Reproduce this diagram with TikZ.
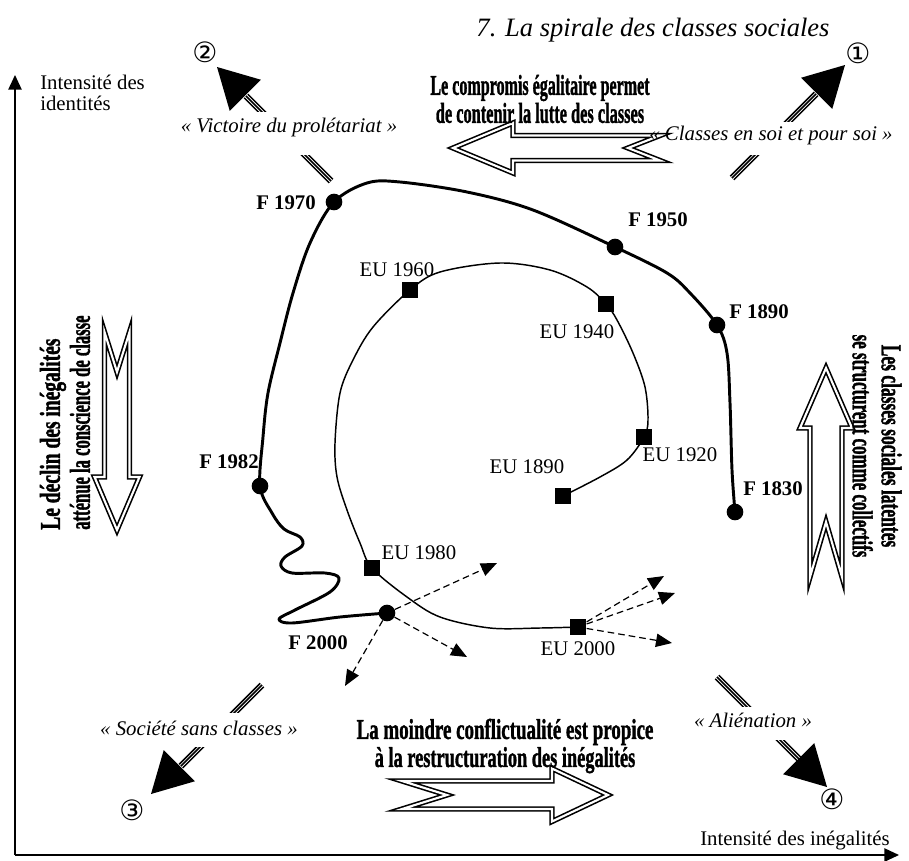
\documentclass[tikz,border=0pt]{standalone}
\usepackage{fontspec}
\usepackage{graphicx}
\setmainfont{Liberation Serif}
\newfontfamily\djv{DejaVu Sans}
\newfontfamily\heavy{Liberation Serif}[BoldFeatures={FakeBold=1.6}]
\usetikzlibrary{arrows.meta}
\newcommand\cx[2]{\scalebox{#1}[1]{#2}}
\tikzset{
  lab/.style={font=\fontsize{15.6}{16}\selectfont, inner sep=0pt},
  flab/.style={font=\fontsize{15.6}{16}\selectfont\bfseries, inner sep=0pt},
  quot/.style={font=\fontsize{15.6}{16}\selectfont\itshape, inner sep=0pt},
  bigt/.style={font=\heavy\fontsize{21.5}{21}\selectfont\bfseries, align=center, inner sep=0pt},
  circnum/.style={font=\djv\fontsize{21}{21}\selectfont, inner sep=0pt},
  fdot/.style={circle, fill=black, inner sep=0pt, minimum size=12.5pt},
  eusq/.style={rectangle, fill=black, inner sep=0pt, minimum size=12.5pt},
  fcurve/.style={line width=2.2pt, line join=round},
  eucurve/.style={line width=1.1pt},
  dasharr/.style={line width=0.9pt, dash pattern=on 5pt off 3pt, -{Triangle[length=12pt,width=10pt]}},
  axisline/.style={line width=1.1pt, -{Triangle[length=11pt,width=10pt]}},
  harrline/.style={draw=black, fill=white, line width=1.2pt, double=white, double distance=1.6pt, line join=miter},
  trishaft/.style={line width=1.2pt, double=white, double distance=2.4pt},
  trimid/.style={line width=1.2pt},
  pics/harr/.style n args={5}{code={\draw[harrline] (0,0) -- (-#1,#2) -- (-#1,#3) -- (-#4,#3) -- (-#4+#5,0) -- (-#4,-#3) -- (-#1,-#3) -- (-#1,-#2) -- cycle;}},
  pics/bighead/.style={code={\fill (0,0) -- (-40,22) -- (-40,-22) -- cycle;}}
}
\begin{document}
\begin{tikzpicture}[x=0.75pt,y=-0.75pt]
\useasboundingbox (0,0) rectangle (909,860);

% axes
\coordinate (o) at (15,855);
\coordinate (ytip) at (15,75);
\coordinate (xtip) at (899,855);
\draw[axisline] (o) -- (ytip);
\draw[axisline] (o) -- (xtip);
\node[lab, align=left, anchor=west, font=\fontsize{15.6}{15.75}\selectfont] (ylab) at (40,92.5) {Intensit\'e des\\identit\'es};
\node[lab, anchor=east] (xlab) at (890,840) {Intensit\'e des in\'egalit\'es};

% title
\node[quot, font=\fontsize{19.9}{20}\selectfont\itshape] (title) at (653,30) {7. La spirale des classes sociales};

% hollow arrows
\pic[rotate=180] at (453,148) {harr={60}{25}{12.5}{207}{32}};
\pic[rotate=0] at (608,795) {harr={56}{26.5}{14}{206}{45}};
\pic[rotate=-90] at (117,530) {harr={53}{22.5}{12.5}{198}{40}};
\pic[rotate=90] at (826,368) {harr={60}{26}{16}{209}{55}};

% diagonal arrows
\draw[trishaft] (246,96) -- (331,181); \draw[trimid] (246,96) -- (331,181);
\draw[trishaft] (816,94) -- (732,178); \draw[trimid] (816,94) -- (732,178);
\draw[trishaft] (181,766) -- (262,685); \draw[trimid] (181,766) -- (262,685);
\draw[trishaft] (717,677) -- (801,761); \draw[trimid] (717,677) -- (801,761);
\pic[rotate=135] at (217,67) {bighead};
\pic[rotate=45] at (845,65) {bighead};
\pic[rotate=-135] at (151,794) {bighead};
\pic[rotate=-45] at (827,787) {bighead};
\fill[white] (240,112) rectangle (320,155);
\fill[white] (740,122) rectangle (805,155);
\fill[white] (185,713) rectangle (250,747);
\fill[white] (735,707) rectangle (790,740);
\node[quot] (q2) at (289,127) {« Victoire du prol\'etariat »};
\node[quot] (q1) at (771,135) {« Classes en soi et pour soi »};
\node[quot, anchor=east] (q3) at (298,728) {« Soci\'et\'e sans classes »};
\node[quot] (q4) at (753,720) {« Ali\'enation »};
\node[circnum] (n2) at (205,52) {②};
\node[circnum] (n1) at (858,53) {①};
\node[circnum] (n3) at (132,810) {③};
\node[circnum] (n4) at (832,799) {④};

% big texts
\node[bigt] (ttop) at (540,99) {\cx{0.56}{Le compromis \'egalitaire permet}\\\cx{0.57}{de contenir la lutte des classes}};
\node[bigt] (tbot) at (505,746) {\cx{0.66}{La moindre conflictualit\'e est propice}\\\cx{0.64}{\`a la restructuration des in\'egalit\'es}};
\node[bigt, align=left, rotate=90, anchor=west, font=\heavy\fontsize{21.5}{22.5}\selectfont\bfseries] (tleft) at (65,530) {\cx{0.68}{Le d\'eclin des in\'egalit\'es}\\\cx{0.58}{att\'enue la conscience de classe}};
\node[bigt, rotate=-90, font=\heavy\fontsize{21.5}{21.75}\selectfont\bfseries] (tright) at (877,446) {\cx{0.61}{Les classes sociales latentes}\\\cx{0.59}{se structurent comme collectifs}};

% F points
\node[fdot] (f1830) at (735,512) {};
\node[fdot] (f1890) at (717,325) {};
\node[fdot] (f1950) at (615,247) {};
\node[fdot] (f1970) at (334,202) {};
\node[fdot] (f1982) at (260,486) {};
\node[fdot] (f2000) at (387,613) {};
% EU points
\node[eusq] (e1890) at (563,496) {};
\node[eusq] (e1920) at (644,437) {};
\node[eusq] (e1940) at (606,304) {};
\node[eusq] (e1960) at (410,290) {};
\node[eusq] (e1980) at (372,568) {};
\node[eusq] (e2000) at (578,627) {};

% curves
\draw[fcurve] plot[smooth, tension=0.55] coordinates {(f1830.center) (732,470) (730,403) (727,353) (f1890.center) (690,293) (667,273) (f1950.center) (533,210) (467,192) (400,182) (367,183) (f1970.center) (310,243) (293,293) (280,343) (268,393) (263,437) (f1982.center) (272,513) (284,529) (300,537) (302,546) (285,557) (281,566) (292,573) (325,573) (339,578) (330,592) (295,610) (279,619) (292,623) (340,617) (f2000.center)};
\draw[eucurve] plot[smooth, tension=0.55] coordinates {(e1890.center) (600,477) (627,460) (e1920.center) (648,420) (645,387) (633,353) (617,320) (e1940.center) (587,287) (550,270) (500,263) (440,272) (e1960.center) (373,327) (353,360) (340,393) (335,443) (337,477) (347,510) (360,543) (e1980.center) (407,597) (440,617) (490,628) (540,628) (e2000.center)};

% labels
\node[flab] at (773,489) {F 1830};
\node[flab] at (759,312) {F 1890};
\node[flab] at (658,220) {F 1950};
\node[flab] at (286,203) {F 1970};
\node[flab] at (229,462) {F 1982};
\node[flab] at (318,643) {F 2000};
\node[lab] at (527,467) {EU 1890};
\node[lab] at (680,455) {EU 1920};
\node[lab] at (577,332) {EU 1940};
\node[lab] at (397,270) {EU 1960};
\node[lab] at (419,553) {EU 1980};
\node[lab] at (578,649) {EU 2000};

% dashed arrows
\coordinate (a1) at (497,563);
\coordinate (a2) at (467,657);
\coordinate (a3) at (345,686);
\coordinate (b1) at (664,576);
\coordinate (b2) at (675,593);
\coordinate (b3) at (672,643);
\draw[dasharr] (f2000) -- (a1);
\draw[dasharr] (f2000) -- (a2);
\draw[dasharr] (f2000) -- (a3);
\draw[dasharr] (e2000) -- (b1);
\draw[dasharr] (e2000) -- (b2);
\draw[dasharr] (e2000) -- (b3);
\end{tikzpicture}
\end{document}
